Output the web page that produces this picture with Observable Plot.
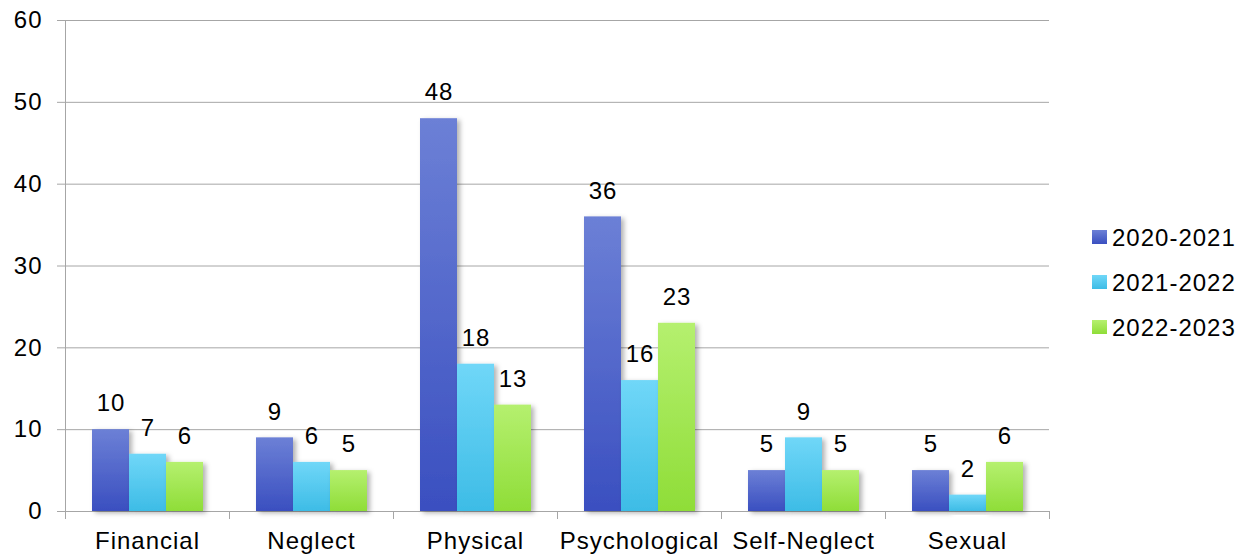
<!DOCTYPE html>
<html>
<head>
<meta charset="utf-8">
<script src="https://cdn.jsdelivr.net/npm/d3@7"></script>
<script src="https://cdn.jsdelivr.net/npm/@observablehq/plot@0.6"></script>
<style>
  html, body { margin: 0; padding: 0; background: #fff; }
  #chart { position: relative; width: 1252px; height: 555px; }
  svg text { font-family: "Liberation Sans", Arial, sans-serif; }
</style>
</head>
<body>
<div id="chart"></div>
<script>
// ---- data ----
const categories = ["Financial", "Neglect", "Physical", "Psychological", "Self-Neglect", "Sexual"];
const series = ["2020-2021", "2021-2022", "2022-2023"];
const v2020 = [10, 9, 48, 36, 5, 5];
const v2021 = [7, 6, 18, 16, 9, 2];
const v2022 = [6, 5, 13, 23, 5, 6];
const yTicks = [0, 10, 20, 30, 40, 50, 60];

// ---- styles ----
const gradients = [
  {id: "g0", top: "#6c80d6", bottom: "#3a4fc0"},
  {id: "g1", top: "#70d7f8", bottom: "#3dbce6"},
  {id: "g2", top: "#b5f06f", bottom: "#8fdd38"}
];
const gray = "#a6a6a6";
const fs = 24;

const valuesBySeries = [v2020, v2021, v2022];
const table = categories.flatMap((c, i) =>
  series.map((s, j) => ({category: c, series: s, value: valuesBySeries[j][i]}))
);

const chart = Plot.plot({
  width: 1252,
  height: 555,
  marginLeft: 64,
  marginRight: 202,
  marginTop: 20,
  marginBottom: 44,
  style: {fontFamily: "Liberation Sans, Arial, sans-serif", letterSpacing: "1px", color: "#000", background: "#fff"},
  fx: {domain: categories, padding: 0, axis: null},
  x: {domain: series, paddingInner: 0, paddingOuter: 0.7, axis: null},
  y: {domain: [0, 60], axis: null},
  color: {domain: series, range: gradients.map(g => `url(#${g.id})`)},
  marks: [
    Plot.gridY(yTicks, {stroke: gray, strokeOpacity: 1}),
    Plot.axisY(yTicks, {tickSize: 8, tickPadding: 15, stroke: gray, fill: "#000", fontSize: fs, label: null}),
    Plot.frame({anchor: "left", stroke: gray, facetAnchor: "left"}),
    Plot.ruleY([0], {stroke: gray}),
    Plot.frame({anchor: "left", stroke: gray, insetTop: 491, insetBottom: -7}),
    Plot.frame({anchor: "right", stroke: gray, insetTop: 491, insetBottom: -7, facetAnchor: "right"}),
    Plot.barY(table, {fx: "category", x: "series", y: "value", fill: "series"}),
    Plot.text(table, {fx: "category", x: "series", y: "value", text: d => String(d.value), dy: -26, fontSize: fs, fill: "#000"}),
    Plot.axisFx({anchor: "bottom", tickSize: 0, tickPadding: 20, fontSize: fs, fill: "#000", label: null})
  ]
});

document.getElementById("chart").appendChild(chart);

// defs: gradients + shadow
const svg = d3.select(chart);
const defs = svg.insert("defs", ":first-child");
for (const g of gradients) {
  const lg = defs.append("linearGradient").attr("id", g.id)
    .attr("x1", 0).attr("y1", 0).attr("x2", 0).attr("y2", 1);
  lg.append("stop").attr("offset", "0%").attr("stop-color", g.top);
  lg.append("stop").attr("offset", "100%").attr("stop-color", g.bottom);
}
const f = defs.append("filter").attr("id", "shadow")
  .attr("x", "-20%").attr("y", "-10%").attr("width", "150%").attr("height", "130%");
f.append("feDropShadow").attr("dx", 3).attr("dy", 2).attr("stdDeviation", 2.5)
  .attr("flood-color", "#000").attr("flood-opacity", 0.3);
svg.selectAll("g[aria-label=bar] rect").attr("filter", "url(#shadow)");

// legend (right side)
const legend = svg.append("g").attr("class", "legend")
  .attr("transform", "translate(1092,237)");
series.forEach((s, i) => {
  const row = legend.append("g").attr("transform", `translate(0,${i * 45})`);
  row.append("rect").attr("x", 0).attr("y", -7).attr("width", 15).attr("height", 14)
    .attr("fill", `url(#${gradients[i].id})`);
  row.append("text").attr("x", 20).attr("y", 0).attr("dy", "0.36em")
    .attr("text-anchor", "start")
    .attr("font-size", fs).attr("fill", "#000").text(s);
});
</script>
</body>
</html>
